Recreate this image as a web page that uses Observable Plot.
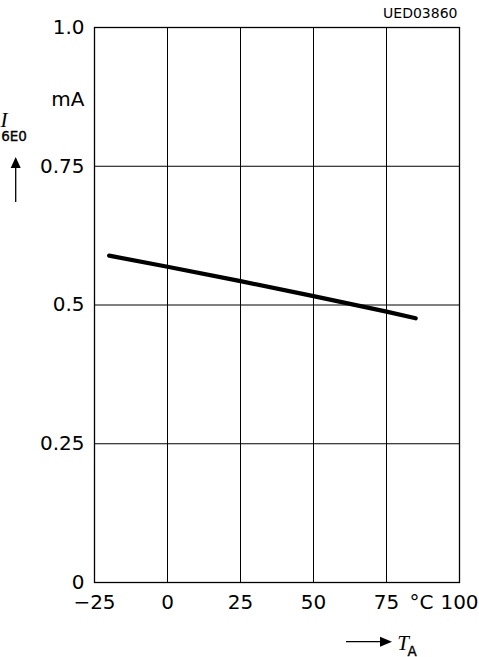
<!DOCTYPE html>
<html><head><meta charset="utf-8">
<script src="https://cdn.jsdelivr.net/npm/d3@7"></script>
<script src="https://cdn.jsdelivr.net/npm/@observablehq/plot@0.6"></script>
<style>body{margin:0;background:#fff} svg{display:block}</style>
</head><body><div id="chart"></div>
<script>
// Data
const temperatures = [-20, 0, 25, 50, 75, 85];          // T_A in °C
const current = [0.589, 0.569, 0.543, 0.516, 0.488, 0.476]; // I_6E0 in mA
const xTicks = [-25, 0, 25, 50, 75, 100];
const xTickLabels = ["−25", "0", "25", "50", "75", "100"];
const yTicks = [0, 0.25, 0.5, 0.75, 1.0];
const yTickLabels = ["0", "0.25", "0.5", "0.75", "1.0"];
const yUnit = "mA";
const xUnit = "°C";
const code = "UED03860";

const data = temperatures.map((t, k) => ({t, i: current[k]}));
const font = "DejaVu Sans";

const chart = Plot.plot({
  width: 479, height: 657,
  marginLeft: 94, marginRight: 20, marginTop: 27, marginBottom: 75,
  style: {fontFamily: font, fontSize: "20px", color: "black", background: "white", overflow: "visible"},
  x: {domain: [-25, 100], label: null},
  y: {domain: [0, 1], label: null},
  marks: [
    Plot.gridX(xTicks.slice(1, -1), {stroke: "black", strokeOpacity: 1, strokeWidth: 1}),
    Plot.gridY(yTicks.slice(1, -1), {stroke: "black", strokeOpacity: 1, strokeWidth: 1}),
    Plot.frame({stroke: "black", strokeWidth: 1.3}),
    Plot.axisX(xTicks, {tickSize: 0, tickPadding: 12, fontSize: 20, tickFormat: d => xTickLabels[xTicks.indexOf(d)]}),
    Plot.axisY(yTicks, {tickSize: 0, tickPadding: 10, fontSize: 20, tickFormat: d => yTickLabels[yTicks.indexOf(d)]}),
    Plot.line(data, {x: "t", y: "i", stroke: "black", strokeWidth: 4.2}),
    Plot.text([yUnit], {y: [0.871], frameAnchor: "left", textAnchor: "end", dx: -10, fontSize: 20}),
    Plot.text([xUnit], {x: [87], frameAnchor: "bottom", dy: 20, lineAnchor: "middle", fontSize: 20}),
    Plot.text([code], {frameAnchor: "top-right", textAnchor: "end", dx: -2, dy: -14, lineAnchor: "middle", fontSize: 14})
  ]
});
document.getElementById("chart").appendChild(chart);

// Axis-name annotations with arrows
const svg = d3.select(chart);
const g = svg.append("g").attr("fill", "black").attr("stroke", "none");
// y: I_6E0 with upward arrow
g.append("text").attr("x", 4).attr("y", 127)
  .attr("font-family", "Liberation Serif").attr("font-style", "italic").attr("font-size", 21).text("I");
g.append("text").attr("x", 14).attr("y", 140.5)
  .attr("font-family", font).attr("font-size", 13.5).attr("stroke", "black").attr("stroke-width", 0.35).text("6E0");
g.append("line").attr("x1", 15.7).attr("x2", 15.7).attr("y1", 165).attr("y2", 202).attr("stroke", "black").attr("stroke-width", 1.3);
g.append("path").attr("d", "M15.7,157 L20.7,168 L10.7,168 Z");
// x: T_A with rightward arrow
g.append("line").attr("x1", 346).attr("x2", 383).attr("y1", 641.7).attr("y2", 641.7).attr("stroke", "black").attr("stroke-width", 1.3);
g.append("path").attr("d", "M392,641.7 L380,636.7 L380,646.7 Z");
g.append("text").attr("x", 403).attr("y", 650)
  .attr("font-family", "Liberation Serif").attr("font-style", "italic").attr("font-size", 21).text("T");
g.append("text").attr("x", 412).attr("y", 655.5)
  .attr("font-family", font).attr("font-size", 13.5).attr("stroke", "black").attr("stroke-width", 0.35).text("A");
</script></body></html>
